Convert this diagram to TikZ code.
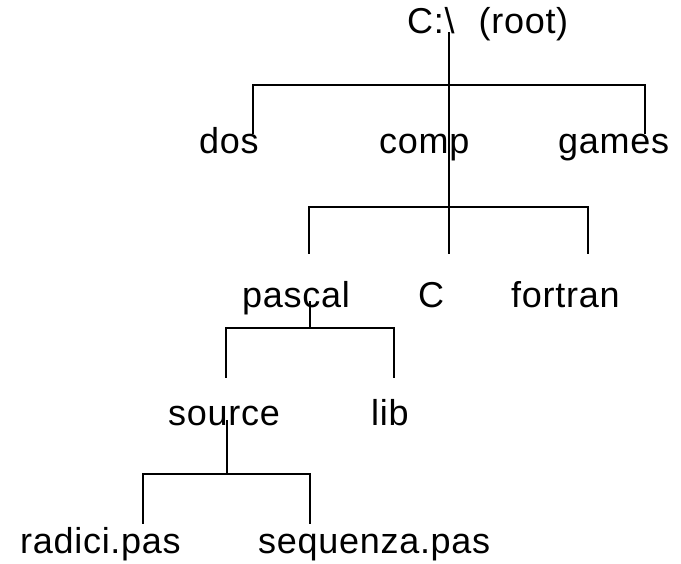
\documentclass[tikz,border=0pt]{standalone}
\usepackage{fontspec}
\setmainfont{Liberation Sans}[LetterSpace=2]
\begin{document}
\begin{tikzpicture}[x=1pt,y=-1pt,
    dir/.style={anchor=base west,inner sep=0pt,font=\fontsize{36}{42}\selectfont},
    branch/.style={line width=1.2pt,line cap=rect}]
      \useasboundingbox (0,0) rectangle (681,564);
      \node[dir] (root) at (407,34) {C:\textbackslash\hspace{24pt}(root)};
      \node[dir] (dos) at (199,154) {dos};
      \node[dir] (comp) at (379,154) {comp};
      \node[dir] (games) at (558,154) {games};
      \node[dir] (pascal) at (242,308) {pascal};
      \node[dir] (c) at (418,308) {C};
      \node[dir] (fortran) at (511,308) {fortran};
      \node[dir] (source) at (168,426) {source};
      \node[dir] (lib) at (371,426) {lib};
      \node[dir] (radici) at (20,553) {radici.pas};
      \node[dir] (sequenza) at (258,553) {sequenza.pas};
      % feet of the lines and bars
      \coordinate (rootfoot) at (449,33);
      \coordinate (compfoot) at (449,253);
      \coordinate (pascalfoot) at (310,302);
      \coordinate (sourcefoot) at (227,421);
      \coordinate (bar1) at (449,85);
      \coordinate (bar2) at (449,207);
      \coordinate (bar3) at (310,328);
      \coordinate (bar4) at (227,474);
      \begin{scope}[branch]
        \draw (rootfoot) -- (compfoot);
        \draw (253,133) |- (bar1) -| (645,133);
        \draw (309,253) |- (bar2) -| (588,253);
        \draw (pascalfoot) -- (bar3);
        \draw (226,377) |- (bar3) -| (394,377);
        \draw (sourcefoot) -- (bar4);
        \draw (143,523) |- (bar4) -| (310,523);
      \end{scope}
    \end{tikzpicture}
\end{document}
